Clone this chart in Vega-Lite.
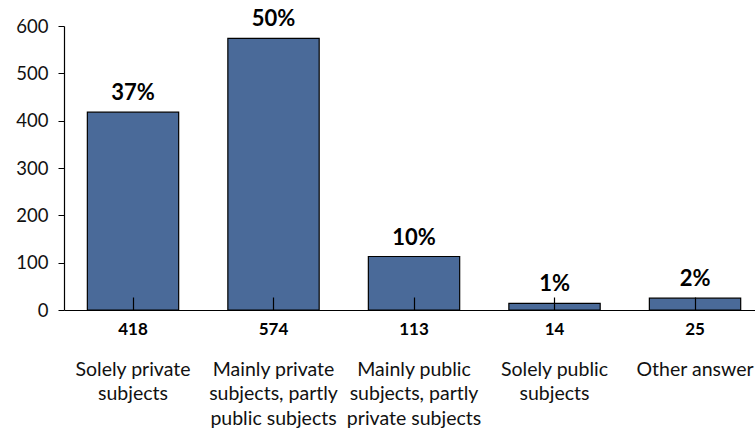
{
  "$schema": "https://vega.github.io/schema/vega-lite/v6.json",
  "width": 691,
  "height": 284,
  "autosize": "none",
  "padding": {"left": 64, "top": 26, "right": 0, "bottom": 124},
  "background": "white",
  "config": {
    "view": {"stroke": null},
    "font": "Lato",
    "axis": {"domainColor": "#000000", "tickColor": "#000000", "labelColor": "#111111", "grid": false, "title": null, "labelFont": "Lato"}
  },
  "data": {
    "values": [
      {"category": "Solely private subjects", "count": 418, "share": 0.37},
      {"category": "Mainly private subjects, partly public subjects", "count": 574, "share": 0.50},
      {"category": "Mainly public subjects, partly private subjects", "count": 113, "share": 0.10},
      {"category": "Solely public subjects", "count": 14, "share": 0.01},
      {"category": "Other answer", "count": 25, "share": 0.02}
    ]
  },
  "encoding": {
    "x": {
      "field": "category",
      "type": "nominal",
      "sort": null,
      "scale": {"paddingInner": 0.35, "paddingOuter": 0.134, "align": 0.62},
      "axis": {
        "zindex": 2,
        "labelAngle": 0,
        "labelFontSize": 19.5,
        "labelPadding": 63,
        "labelBaseline": "top",
        "labelLineHeight": 24.5,
        "labelLimit": 0,
        "tickSize": -13,
        "tickWidth": 1.2,
        "domainWidth": 1.2,
        "labelExpr": "datum.label == 'Solely private subjects' ? ['Solely private', 'subjects'] : datum.label == 'Mainly private subjects, partly public subjects' ? ['Mainly private', 'subjects, partly', 'public subjects'] : datum.label == 'Mainly public subjects, partly private subjects' ? ['Mainly public', 'subjects, partly', 'private subjects'] : datum.label == 'Solely public subjects' ? ['Solely public', 'subjects'] : datum.label"
      }
    }
  },
  "layer": [
    {
      "mark": {"type": "bar", "color": "#4A6A99", "stroke": "#000000", "strokeWidth": 1.2},
      "encoding": {
        "y": {
          "field": "count",
          "type": "quantitative",
          "scale": {"domain": [0, 600], "nice": false},
          "axis": {"zindex": 2, "values": [0, 100, 200, 300, 400, 500, 600], "labelFontSize": 18.5, "tickSize": 6, "labelPadding": 10, "domainWidth": 1.2}
        }
      }
    },
    {
      "mark": {"type": "text", "fontSize": 22, "fontWeight": "bold", "baseline": "alphabetic", "dy": -12, "color": "#000000"},
      "encoding": {
        "y": {"field": "count", "type": "quantitative"},
        "text": {"field": "share", "type": "quantitative", "format": ".0%"}
      }
    },
    {
      "mark": {"type": "text", "fontSize": 17, "fontWeight": "bold", "baseline": "middle", "dy": 20, "color": "#000000"},
      "encoding": {
        "y": {"datum": 0, "type": "quantitative"},
        "text": {"field": "count", "type": "quantitative"}
      }
    }
  ]
}
